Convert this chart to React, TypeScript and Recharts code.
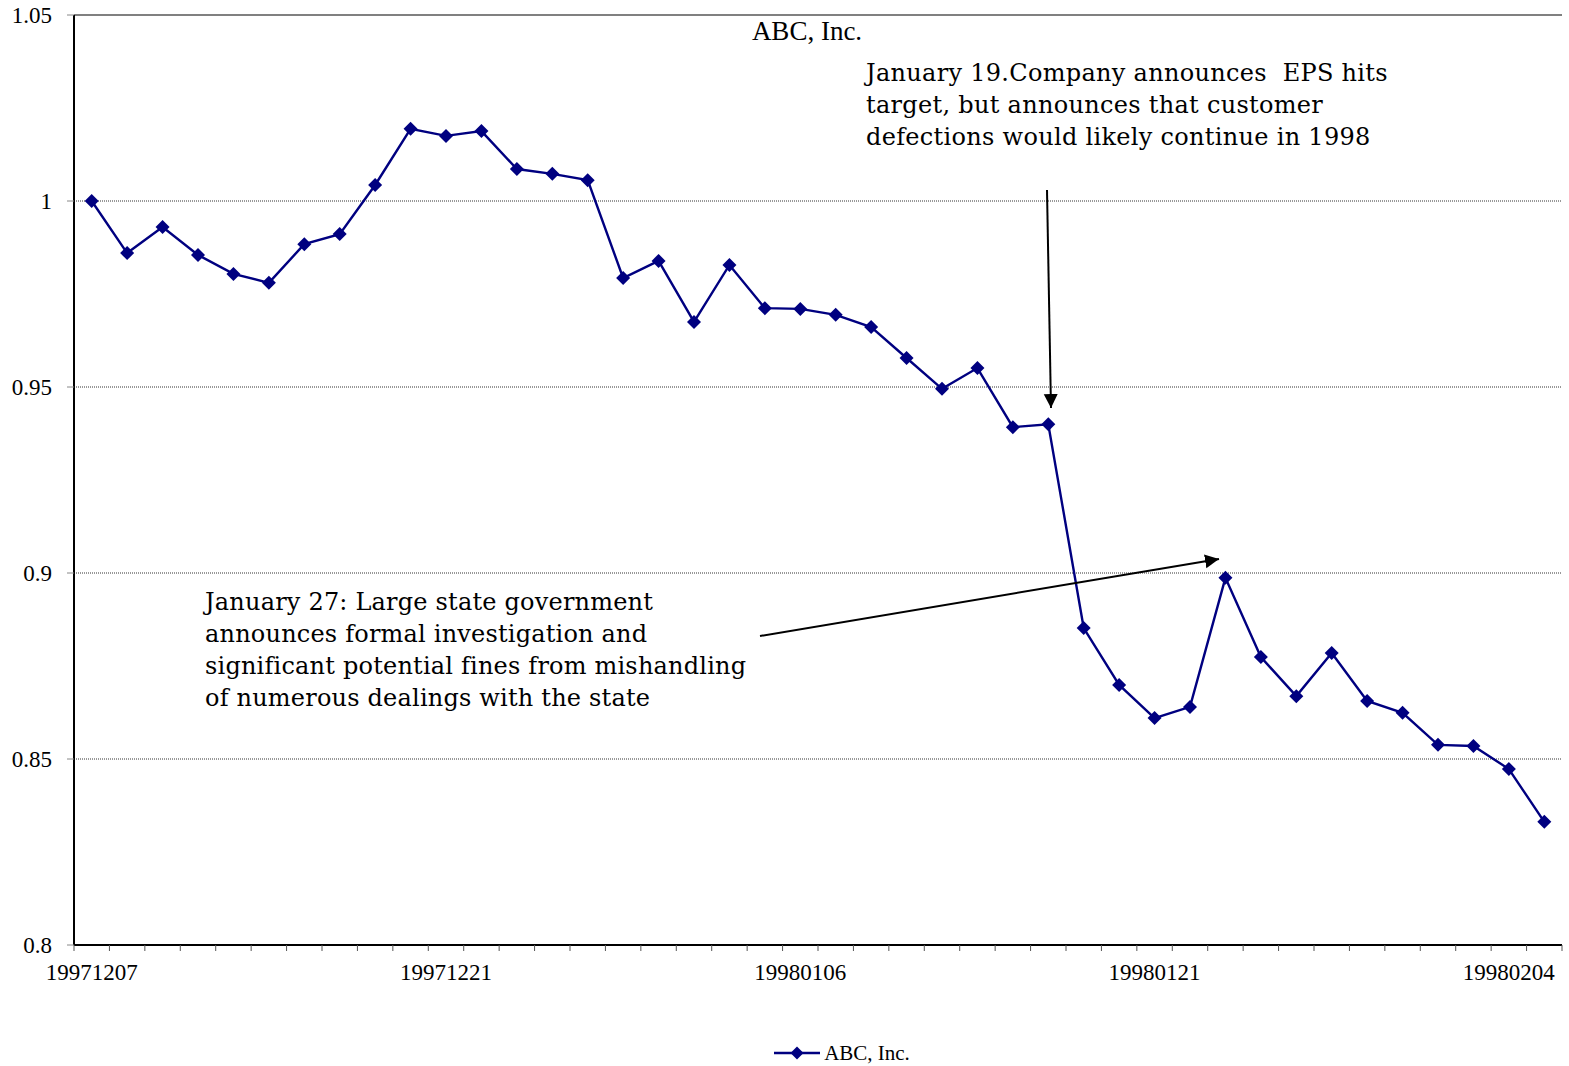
import React from "react";
import {
  LineChart,
  Line,
  XAxis,
  YAxis,
  CartesianGrid,
  ReferenceLine,
  Legend,
} from "recharts";

// trading days shown on the category axis
const dates = [
  "19971207", "19971208", "19971209", "19971210", "19971211",
  "19971214", "19971215", "19971216", "19971217", "19971218",
  "19971221", "19971222", "19971223", "19971224", "19971228",
  "19971229", "19971230", "19971231", "19980104", "19980105",
  "19980106", "19980107", "19980108", "19980111", "19980112",
  "19980113", "19980114", "19980115", "19980119", "19980120",
  "19980121", "19980122", "19980125", "19980126", "19980127",
  "19980128", "19980129", "19980201", "19980202", "19980203",
  "19980204", "19980205",
];

// ABC, Inc. relative price
const abcValues = [
  1.0, 0.986, 0.993, 0.9855, 0.9804, 0.978, 0.9884, 0.9911, 1.0043, 1.0194,
  1.0175, 1.0188, 1.0086, 1.0073, 1.0056, 0.9793, 0.9839, 0.9675, 0.9828, 0.9712,
  0.971, 0.9694, 0.9661, 0.9578, 0.9495, 0.9551, 0.9392, 0.94, 0.8852, 0.8699,
  0.861, 0.864, 0.8987, 0.8774, 0.8669, 0.8785, 0.8656, 0.8624, 0.8538, 0.8535,
  0.8473, 0.8331,
];

const yTicks = [0.8, 0.85, 0.9, 0.95, 1, 1.05];
const labelEvery = 10;

const note1 = [
  "January 19.Company announces  EPS hits",
  "target, but announces that customer",
  "defections would likely continue in 1998",
];
const note2 = [
  "January 27: Large state government",
  "announces formal investigation and",
  "significant potential fines from mishandling",
  "of numerous dealings with the state",
];

const data = dates.map((d, i) => ({ date: d, value: abcValues[i] }));

const W = 1569;
const H = 1066;
const margin = { top: 15, right: 7, left: 0, bottom: 1 };
const yAxisWidth = 74;
const band = (W - margin.left - margin.right - yAxisWidth) / dates.length;

const NAVY = "#000080";
const axisFont = "'Liberation Serif', 'Times New Roman', serif";
const noteFont = "'DejaVu Serif', serif";

function DateTick(props: any) {
  const { x, y, payload } = props;
  const i = payload.index;
  const half = band / 2;
  return (
    <g>
      <line x1={x - half} x2={x - half} y1={y} y2={y + 6} stroke="#555" />
      {i === dates.length - 1 && (
        <line x1={x + half} x2={x + half} y1={y} y2={y + 6} stroke="#555" />
      )}
      {i % labelEvery === 0 && (
        <text
          x={x}
          y={y + 35}
          textAnchor="middle"
          style={{ fontFamily: axisFont }}
          fontSize={23}
          fill="#000"
        >
          {payload.value}
        </text>
      )}
    </g>
  );
}

function ValueTick(props: any) {
  const { x, y, payload } = props;
  return (
    <text
      x={x}
      y={y}
      dy={8}
      textAnchor="end"
      style={{ fontFamily: axisFont }}
      fontSize={23}
      fill="#000"
    >
      {String(payload.value)}
    </text>
  );
}

function renderDiamond(p: any) {
  const { cx, cy, index } = p;
  const r = 7;
  return (
    <path
      key={`d-${index}`}
      d={`M${cx},${cy - r}L${cx + r},${cy}L${cx},${cy + r}L${cx - r},${cy}Z`}
      fill={NAVY}
    />
  );
}

function LegendBox() {
  return (
    <div
      style={{
        height: 24,
        display: "flex",
        justifyContent: "center",
        alignItems: "center",
        paddingLeft: 120,
        fontFamily: axisFont,
        fontSize: 21,
      }}
    >
      <svg width={50} height={20} style={{ marginRight: 2 }}>
        <line x1={2} x2={48} y1={10} y2={10} stroke={NAVY} strokeWidth={2.5} />
        <path d="M25,3.5L31.5,10L25,16.5L18.5,10Z" fill={NAVY} />
      </svg>
      <span>ABC, Inc.</span>
    </div>
  );
}

export default function App() {
  return (
    <div style={{ position: "absolute", left: 0, top: 0, width: W, height: H, background: "#fff" }}>
      <LineChart width={W} height={H} data={data} margin={margin}>
        <CartesianGrid vertical={false} stroke="#333" strokeDasharray="1 1" />
        <ReferenceLine y={1.05} stroke="#808080" strokeWidth={2} />
        <XAxis
          dataKey="date"
          scale="band"
          interval={0}
          height={96}
          tickSize={0}
          tickMargin={0}
          tickLine={false}
          axisLine={{ stroke: "#000", strokeWidth: 2 }}
          tick={<DateTick />}
        />
        <YAxis
          type="number"
          domain={[0.8, 1.05]}
          ticks={yTicks}
          width={yAxisWidth}
          tickSize={7}
          tickMargin={15}
          axisLine={{ stroke: "#000", strokeWidth: 2 }}
          tickLine={{ stroke: "#888" }}
          tick={<ValueTick />}
          allowDataOverflow
        />
        <YAxis
          yAxisId="right"
          orientation="right"
          width={0}
          tick={false}
          tickLine={false}
          axisLine={{ stroke: "#808080", strokeWidth: 2 }}
        />
        <Legend verticalAlign="bottom" content={<LegendBox />} />
        <Line
          type="linear"
          dataKey="value"
          name="ABC, Inc."
          stroke={NAVY}
          strokeWidth={2.4}
          dot={renderDiamond}
          activeDot={false}
          isAnimationActive={false}
        />
      </LineChart>
      <svg
        width={W}
        height={H}
        style={{ position: "absolute", left: 0, top: 0, pointerEvents: "none" }}
      >
        <defs>
          <marker
            id="head"
            markerUnits="userSpaceOnUse"
            markerWidth={16}
            markerHeight={16}
            refX={14}
            refY={7}
            orient="auto"
          >
            <path d="M0,0L14,7L0,14Z" fill="#000" />
          </marker>
        </defs>
        <text x={807} y={40} textAnchor="middle" style={{ fontFamily: axisFont }} fontSize={27}>
          ABC, Inc.
        </text>
        {note1.map((t, i) => (
          <text
            key={t}
            x={866}
            y={81 + i * 32}
            style={{ fontFamily: noteFont, whiteSpace: "pre" }}
            fontSize={24}
            letterSpacing={0.3}
          >
            {t}
          </text>
        ))}
        {note2.map((t, i) => (
          <text
            key={t}
            x={205}
            y={610 + i * 32}
            style={{ fontFamily: noteFont }}
            fontSize={24}
            letterSpacing={0.2}
          >
            {t}
          </text>
        ))}
        <line x1={1047} y1={190} x2={1051} y2={408} stroke="#000" strokeWidth={2} markerEnd="url(#head)" />
        <line x1={760} y1={636} x2={1219} y2={559} stroke="#000" strokeWidth={2} markerEnd="url(#head)" />
      </svg>
    </div>
  );
}
